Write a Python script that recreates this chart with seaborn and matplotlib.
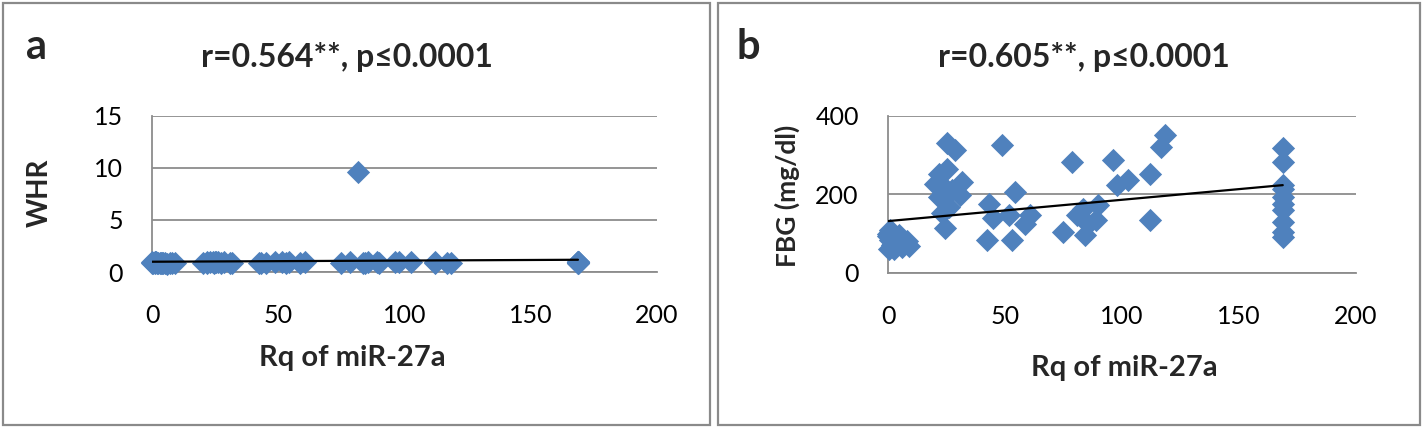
import pandas as pd
import matplotlib.pyplot as plt
import seaborn as sns
from matplotlib.patches import Rectangle

# Panel b: FBG vs Rq of miR-27a (many diamonds overlap near x = 0 and x = 169)
fbg_rq = [0.0, 1.0, 1.0, 2.0, 4.0, 6.0, 0.5, 1.5, 3.0, 5.0, 7.0, 9.0,
          0.0, 2.5, 4.5, 8.0, 1.0, 3.5,
          25.2, 28.7, 21.6, 25.0, 20.0, 24.0, 21.6, 27.3, 31.6, 30.8, 23.0,
          26.0, 24.4,
          48.6, 43.0, 42.2, 45.0, 54.3, 51.5, 52.9, 60.7, 58.6,
          78.5, 74.9, 80.6, 84.2, 85.6, 89.8, 89.0, 83.4,
          96.2, 97.7, 102.6, 111.9, 111.9, 118.3, 116.8,
          168.7, 168.7, 168.7, 168.7, 168.7, 168.7, 168.7, 168.7, 168.7, 168.7]
fbg = [95, 84, 105, 75, 90, 67, 60, 72, 80, 88, 76, 70,
       100, 62, 98, 82, 110, 74,
       331, 313, 253, 266, 228, 219, 194, 211, 232, 198, 152,
       169, 114,
       325, 177, 84, 139, 207, 147, 84, 147, 126,
       283, 105, 147, 97, 126, 173, 135, 164,
       289, 224, 236, 253, 135, 351, 321,
       319, 283, 224, 215, 194, 177, 160, 131, 105, 92]

# Panel a: WHR vs Rq of miR-27a (same patients, most WHR values overlap near 0.9)
whr_rq = [0.0, 1.0, 1.0, 2.0, 4.0, 6.0, 0.5, 1.5, 3.0, 5.0, 7.0, 9.0,
          0.0, 2.5, 4.5, 8.0, 1.0, 3.5,
          25.2, 28.7, 21.6, 25.0, 20.0, 24.0, 21.6, 27.3, 31.6, 30.8, 23.0,
          26.0, 24.4,
          48.6, 43.0, 42.2, 45.0, 54.3, 51.5, 52.9, 60.7, 58.6,
          78.5, 74.9, 81.6, 84.2, 85.6, 89.8, 89.0, 83.4,
          96.2, 97.7, 102.6, 111.9, 111.9, 118.3, 116.8,
          168.7, 168.7, 168.7, 168.7, 168.7, 168.7, 168.7, 168.7, 168.7, 168.7]
whr = [0.9, 0.85, 0.95, 0.9, 0.85, 0.8, 0.9, 0.95, 0.85, 0.9, 0.85, 0.9,
       0.95, 0.9, 0.85, 0.9, 0.95, 0.9,
       0.95, 1.0, 0.9, 0.95, 0.9, 1.0, 0.95, 0.9, 0.85, 0.9, 0.95,
       1.0, 0.9,
       0.95, 0.9, 0.85, 0.9, 0.95, 1.0, 0.9, 0.95, 0.9,
       0.95, 0.9, 9.6, 0.9, 0.95, 0.9, 0.95, 0.9,
       1.0, 0.95, 0.95, 0.9, 0.95, 0.85, 0.9,
       1.0, 0.95, 0.9, 1.0, 0.95, 0.9, 1.0, 0.95, 0.9, 1.0]

df_a = pd.DataFrame({"Rq": whr_rq, "WHR": whr})
df_b = pd.DataFrame({"Rq": fbg_rq, "FBG": fbg})

sns.set_theme(style="white")
plt.rcParams["font.family"] = ["Lato", "DejaVu Sans"]

blue = "#4F81BD"
grey = "#8c8c8c"

fig = plt.figure(figsize=(14.24, 4.28), dpi=100)
W, H = 1424, 428

ax_a = fig.add_axes([152 / W, 1 - 272 / H, 505 / W, 156 / H])
ax_b = fig.add_axes([888 / W, 1 - 273 / H, 468 / W, 157 / H])

# panel frames
for x0, x1 in [(3, 710), (718, 1420)]:
    fig.patches.append(Rectangle((x0 / W, 3 / H), (x1 - x0) / W, 422 / H,
                                 transform=fig.transFigure, fill=False,
                                 edgecolor="#8a8a8a", linewidth=1.6))

panels = [
    (ax_a, df_a, "WHR", "WHR", 20, [0, 5, 10, 15], (0, 15), "a",
     "r=0.564**, p≤0.0001", 26, 347, (-0.222, 0.506), (0.396, -0.551)),
    (ax_b, df_b, "FBG", "FBG (mg/dl)", 19, [0, 200, 400], (0, 400), "b",
     "r=0.605**, p≤0.0001", 736, 1084, (-0.215, 0.49), (0.506, -0.605)),
]

for (ax, df, col, ylab, ylsize, yticks, ylim, letter, title,
     lx, tx, ylpos, xlpos) in panels:
    sns.scatterplot(ax=ax, data=df, x="Rq", y=col, marker="D", s=140,
                    color=blue, linewidth=0, clip_on=False, zorder=3)
    sns.regplot(ax=ax, data=df, x="Rq", y=col, scatter=False, ci=None,
                truncate=True, color="black",
                line_kws={"linewidth": 1.6, "zorder": 4})

    ax.set_xlim(0, 200)
    ax.set_xticks([0, 50, 100, 150, 200])
    ax.set_ylim(*ylim)
    ax.set_yticks(yticks)
    ax.grid(axis="y", color=grey, linewidth=1.3)
    ax.set_axisbelow(True)
    for s in ["top", "right"]:
        ax.spines[s].set_visible(False)
    for s in ["left", "bottom"]:
        ax.spines[s].set_color(grey)
        ax.spines[s].set_linewidth(1.3)
    ax.tick_params(axis="both", direction="out", length=7, width=1.3,
                   color=grey, labelsize=18, labelcolor="black")
    ax.tick_params(axis="x", pad=16)
    ax.tick_params(axis="y", pad=14)

    ax.set_xlabel("Rq of miR-27a", fontsize=21, fontweight="bold")
    ax.xaxis.set_label_coords(*xlpos)
    ax.xaxis.label.set_va("center")
    ax.set_ylabel(ylab, fontsize=ylsize, fontweight="bold")
    ax.yaxis.set_label_coords(*ylpos)
    ax.yaxis.label.set_va("center")

    fig.text(lx / W, 1 - 47 / H, letter, fontsize=30, fontweight="bold",
             ha="left", va="center")
    fig.text(tx / W, 1 - 57 / H, title, fontsize=23, fontweight="bold",
             ha="center", va="center")

fig.savefig("out.png", dpi=100)
